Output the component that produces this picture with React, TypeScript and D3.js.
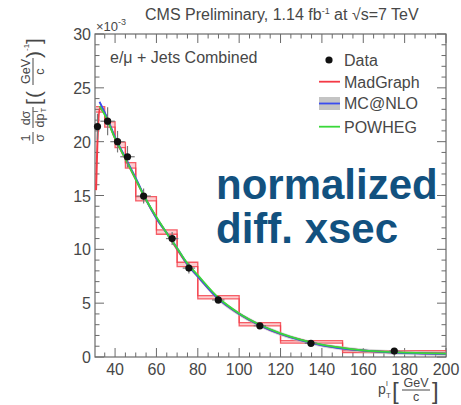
import React from "react";
import * as d3 from "d3";

// ---- data (values in units of 1e-3 (GeV/c)^-1) ----
const dataPt = [31.5, 36.4, 41.2, 46.0, 53.8, 67.6, 75.7, 89.9, 110, 134.7, 175];
const dataVal = [21.4, 21.9, 20.0, 18.6, 14.95, 11.0, 8.26, 5.3, 2.9, 1.27, 0.55];
const dataXErr = [1.5, 3.5, 3.5, 3.5, 3.5, 3, 3, 3, 3, 3, 2.5];
const dataYErr = [1.2, 1.3, 1.0, 1.0, 0.7, 0.6, 0.5, 0.35, 0.25, 0.15, 0.1];

const mgEdges = [30.8, 35, 40, 45, 50, 60, 70, 80, 100, 120, 150, 200];
const mgHist = [23.0, 21.6, 19.7, 17.8, 14.7, 11.6, 8.6, 5.55, 3.05, 1.4, 0.5];
const mgHistErr = [0.25, 0.25, 0.25, 0.25, 0.2, 0.2, 0.2, 0.15, 0.15, 0.12, 0.1];

const curvePt = [32.5, 35, 40, 45, 50, 55, 60, 65, 70, 75, 80, 90, 100, 110, 120, 130, 140, 150, 160, 175, 200];
const mcnloVal = [23.7, 22.7, 20.4, 18.5, 16.6, 14.6, 12.9, 11.5, 10.1, 8.6, 7.5, 5.4, 4.0, 2.95, 2.15, 1.55, 1.1, 0.8, 0.6, 0.42, 0.3];
const powhegVal = [23.3, 22.5, 20.3, 18.4, 16.5, 14.6, 13.0, 11.5, 10.1, 8.7, 7.6, 5.5, 4.05, 3.0, 2.2, 1.6, 1.15, 0.85, 0.62, 0.45, 0.32];
const madgraphPt = [30.8, 31.4, 32.5, 35, 40, 45, 50, 55, 60, 65, 70, 75, 80, 90, 100, 110, 120, 130, 140, 150, 160, 175, 200];
const madgraphVal = [15.5, 19.5, 23.1, 22.6, 20.3, 18.4, 16.5, 14.6, 12.9, 11.5, 10.0, 8.6, 7.5, 5.4, 4.0, 2.95, 2.15, 1.58, 1.12, 0.82, 0.6, 0.43, 0.3];

const xMajorTicks = [40, 60, 80, 100, 120, 140, 160, 180, 200];
const yMajorTicks = [0, 5, 10, 15, 20, 25, 30];
const legendLabels = ["Data", "MadGraph", "MC@NLO", "POWHEG"];

const W = 461, H = 405;
const L = 95, R = 446, T = 34, B = 357;

const FONT = "'Liberation Sans', Arial, Helvetica, sans-serif";
const TXT = "#474747";
const AX = "#6a6a6a";
const RED = "#f43a45";
const BLUE = "#3a4cf0";
const GREEN = "#3ad83a";

export default function App() {
  const x = d3.scaleLinear().domain([30.3, 200]).range([L, R]);
  const y = d3.scaleLinear().domain([0, 30]).range([B, T]);

  const xMinor = d3.range(35, 200.1, 5);
  const yMinor = d3.range(0, 30.01, 1);

  const line = d3
    .line<[number, number]>()
    .x((d) => x(d[0]))
    .y((d) => y(d[1]))
    .curve(d3.curveMonotoneX);

  const histPts = (vals: number[]) => {
    const pts: [number, number][] = [];
    vals.forEach((v, i) => {
      pts.push([mgEdges[i], v]);
      pts.push([mgEdges[i + 1], v]);
    });
    return pts;
  };
  const straight = d3
    .line<[number, number]>()
    .x((d) => x(d[0]))
    .y((d) => y(d[1]));
  const hiPts = histPts(mgHist.map((v, i) => v + mgHistErr[i]));
  const loPts = histPts(mgHist.map((v, i) => v - mgHistErr[i]));
  const bandArea = d3
    .area<number>()
    .x((_, i) => x(hiPts[i][0]))
    .y0((_, i) => y(loPts[i][1]))
    .y1((_, i) => y(hiPts[i][1]));

  const mcBand = d3
    .area<number>()
    .x((_, i) => x(curvePt[i]))
    .y0((v) => y(v - 0.2))
    .y1((v) => y(v + 0.2))
    .curve(d3.curveMonotoneX);

  const mc = curvePt.map((p, i) => [p, mcnloVal[i]] as [number, number]);
  const pw = curvePt.map((p, i) => [p, powhegVal[i]] as [number, number]);
  const mg = madgraphPt.map((p, i) => [p, madgraphVal[i]] as [number, number]);

  const legendY = [60, 81.7, 103.5, 126.7];

  return (
    <svg
      width={W}
      height={H}
      style={{ position: "absolute", left: 0, top: 0, background: "#fff" }}
      fontFamily={FONT}
    >
      <rect x={0} y={0} width={W} height={H} fill="#fff" />
      {/* title */}
      <text x={145} y={20} fontSize={16} fill={TXT}>
        CMS Preliminary, 1.14 fb
        <tspan fontSize={9} dy={-6}>-1</tspan>
        <tspan dy={6}> at </tspan>
        <tspan>√s=7 TeV</tspan>
      </text>

      {/* frame */}
      <rect x={L} y={T} width={R - L} height={B - T} fill="none" stroke={AX} strokeWidth={1.2} />

      {/* ticks */}
      {xMinor.map((v) => {
        const major = xMajorTicks.includes(v);
        const len = major ? 9 : 4.5;
        return (
          <g key={"xt" + v} stroke={AX} strokeWidth={1}>
            <line x1={x(v)} x2={x(v)} y1={B} y2={B - len} />
            <line x1={x(v)} x2={x(v)} y1={T} y2={T + len} />
          </g>
        );
      })}
      {yMinor.map((v) => {
        const major = v % 5 === 0;
        const len = major ? 9 : 4.5;
        return (
          <g key={"yt" + v} stroke={AX} strokeWidth={1}>
            <line x1={L} x2={L + len} y1={y(v)} y2={y(v)} />
            <line x1={R} x2={R - len} y1={y(v)} y2={y(v)} />
          </g>
        );
      })}

      {/* tick labels */}
      {xMajorTicks.map((v) => (
        <text key={"xl" + v} x={x(v)} y={375} fontSize={16} fill={TXT} textAnchor="middle">
          {v}
        </text>
      ))}
      {yMajorTicks.map((v) => (
        <text key={"yl" + v} x={91} y={y(v) + 6} fontSize={16} fill={TXT} textAnchor="end">
          {v}
        </text>
      ))}
      <text x={96} y={31} fontSize={13} fill={TXT}>
        ×10<tspan fontSize={9} dy={-6}>-3</tspan>
      </text>

      {/* y axis label */}
      <g transform="translate(33,146) rotate(-90)" fill={TXT} fontSize={12.5}>
        <text x={8} y={-3} textAnchor="middle">1</text>
        <line x1={2} x2={14} y1={0} y2={0} stroke={TXT} strokeWidth={1} />
        <text x={8} y={10.5} textAnchor="middle">σ</text>
        <text x={28} y={-3} textAnchor="middle">dσ</text>
        <line x1={18} x2={39} y1={0} y2={0} stroke={TXT} strokeWidth={1} />
        <text x={18.5} y={10.5}>dp</text>
        <text x={33.5} y={5} fontSize={7.5}>l</text>
        <text x={33.5} y={13} fontSize={7.5}>T</text>
        <text x={41} y={7.5} fontSize={21}>[</text>
        <text x={48} y={7.5} fontSize={21}>(</text>
        <text x={74.5} y={-3} textAnchor="middle">GeV</text>
        <line x1={61} x2={88} y1={0} y2={0} stroke={TXT} strokeWidth={1} />
        <text x={74.5} y={10.5} textAnchor="middle">c</text>
        <text x={88} y={7.5} fontSize={21}>)</text>
        <text x={95} y={-4} fontSize={8}>-1</text>
        <text x={102} y={7.5} fontSize={21}>]</text>
      </g>

      {/* x axis label */}
      <g fill={TXT}>
        <text x={378} y={394} fontSize={14}>p</text>
        <text x={386} y={386} fontSize={8}>l</text>
        <text x={386} y={398} fontSize={8}>T</text>
        <text x={392} y={399} fontSize={24}>[</text>
        <text x={416} y={387} fontSize={12.5} textAnchor="middle">GeV</text>
        <line x1={402} x2={430} y1={390} y2={390} stroke={TXT} strokeWidth={1} />
        <text x={416} y={401} fontSize={12.5} textAnchor="middle">c</text>
        <text x={432} y={399} fontSize={24}>]</text>
      </g>

      {/* inner label */}
      <text x={110} y={63} fontSize={16} fill={TXT}>
        e/μ + Jets Combined
      </text>

      {/* MadGraph histogram band */}
      <path d={bandArea(hiPts.map((_, i) => i)) || ""} fill={RED} fillOpacity={0.25} />
      <path d={straight(hiPts) || ""} fill="none" stroke={RED} strokeWidth={1.3} strokeOpacity={0.8} />
      <path d={straight(loPts) || ""} fill="none" stroke={RED} strokeWidth={1.3} strokeOpacity={0.8} />

      {/* curves */}
      <path d={mcBand(mcnloVal) || ""} fill="#bbb" fillOpacity={0.6} />
      <path d={line(mg) || ""} fill="none" stroke={RED} strokeWidth={2} />
      <path d={line(mc) || ""} fill="none" stroke={BLUE} strokeWidth={2} />
      <path d={line(pw) || ""} fill="none" stroke={GREEN} strokeWidth={1.8} />

      {/* data */}
      {dataPt.map((p, i) => (
        <g key={"d" + i}>
          <line
            x1={x(p - dataXErr[i])}
            x2={x(p + dataXErr[i])}
            y1={y(dataVal[i])}
            y2={y(dataVal[i])}
            stroke="#777"
            strokeWidth={1.2}
          />
          <line
            x1={x(p)}
            x2={x(p)}
            y1={y(dataVal[i] - dataYErr[i])}
            y2={y(dataVal[i] + dataYErr[i])}
            stroke="#777"
            strokeWidth={1.2}
          />
          <circle cx={x(p)} cy={y(dataVal[i])} r={3.6} fill="#111" />
        </g>
      ))}

      {/* legend */}
      <circle cx={329} cy={legendY[0]} r={3.6} fill="#111" />
      <line x1={319} x2={340} y1={legendY[1]} y2={legendY[1]} stroke={RED} strokeWidth={1.8} />
      <rect x={319} y={97} width={21} height={13} fill="#c4c4c4" />
      <line x1={319} x2={340} y1={legendY[2]} y2={legendY[2]} stroke={BLUE} strokeWidth={1.8} />
      <line x1={319} x2={340} y1={legendY[3]} y2={legendY[3]} stroke={GREEN} strokeWidth={1.8} />
      {legendLabels.map((l, i) => (
        <text key={l} x={344} y={legendY[i] + 5.8} fontSize={16} fill={TXT}>
          {l}
        </text>
      ))}

      {/* overlay annotation */}
      <text x={216} y={199} fontSize={42} fontWeight="bold" fill="#12517f">
        normalized
      </text>
      <text x={216} y={243} fontSize={42} fontWeight="bold" fill="#12517f">
        diff. xsec
      </text>
    </svg>
  );
}
